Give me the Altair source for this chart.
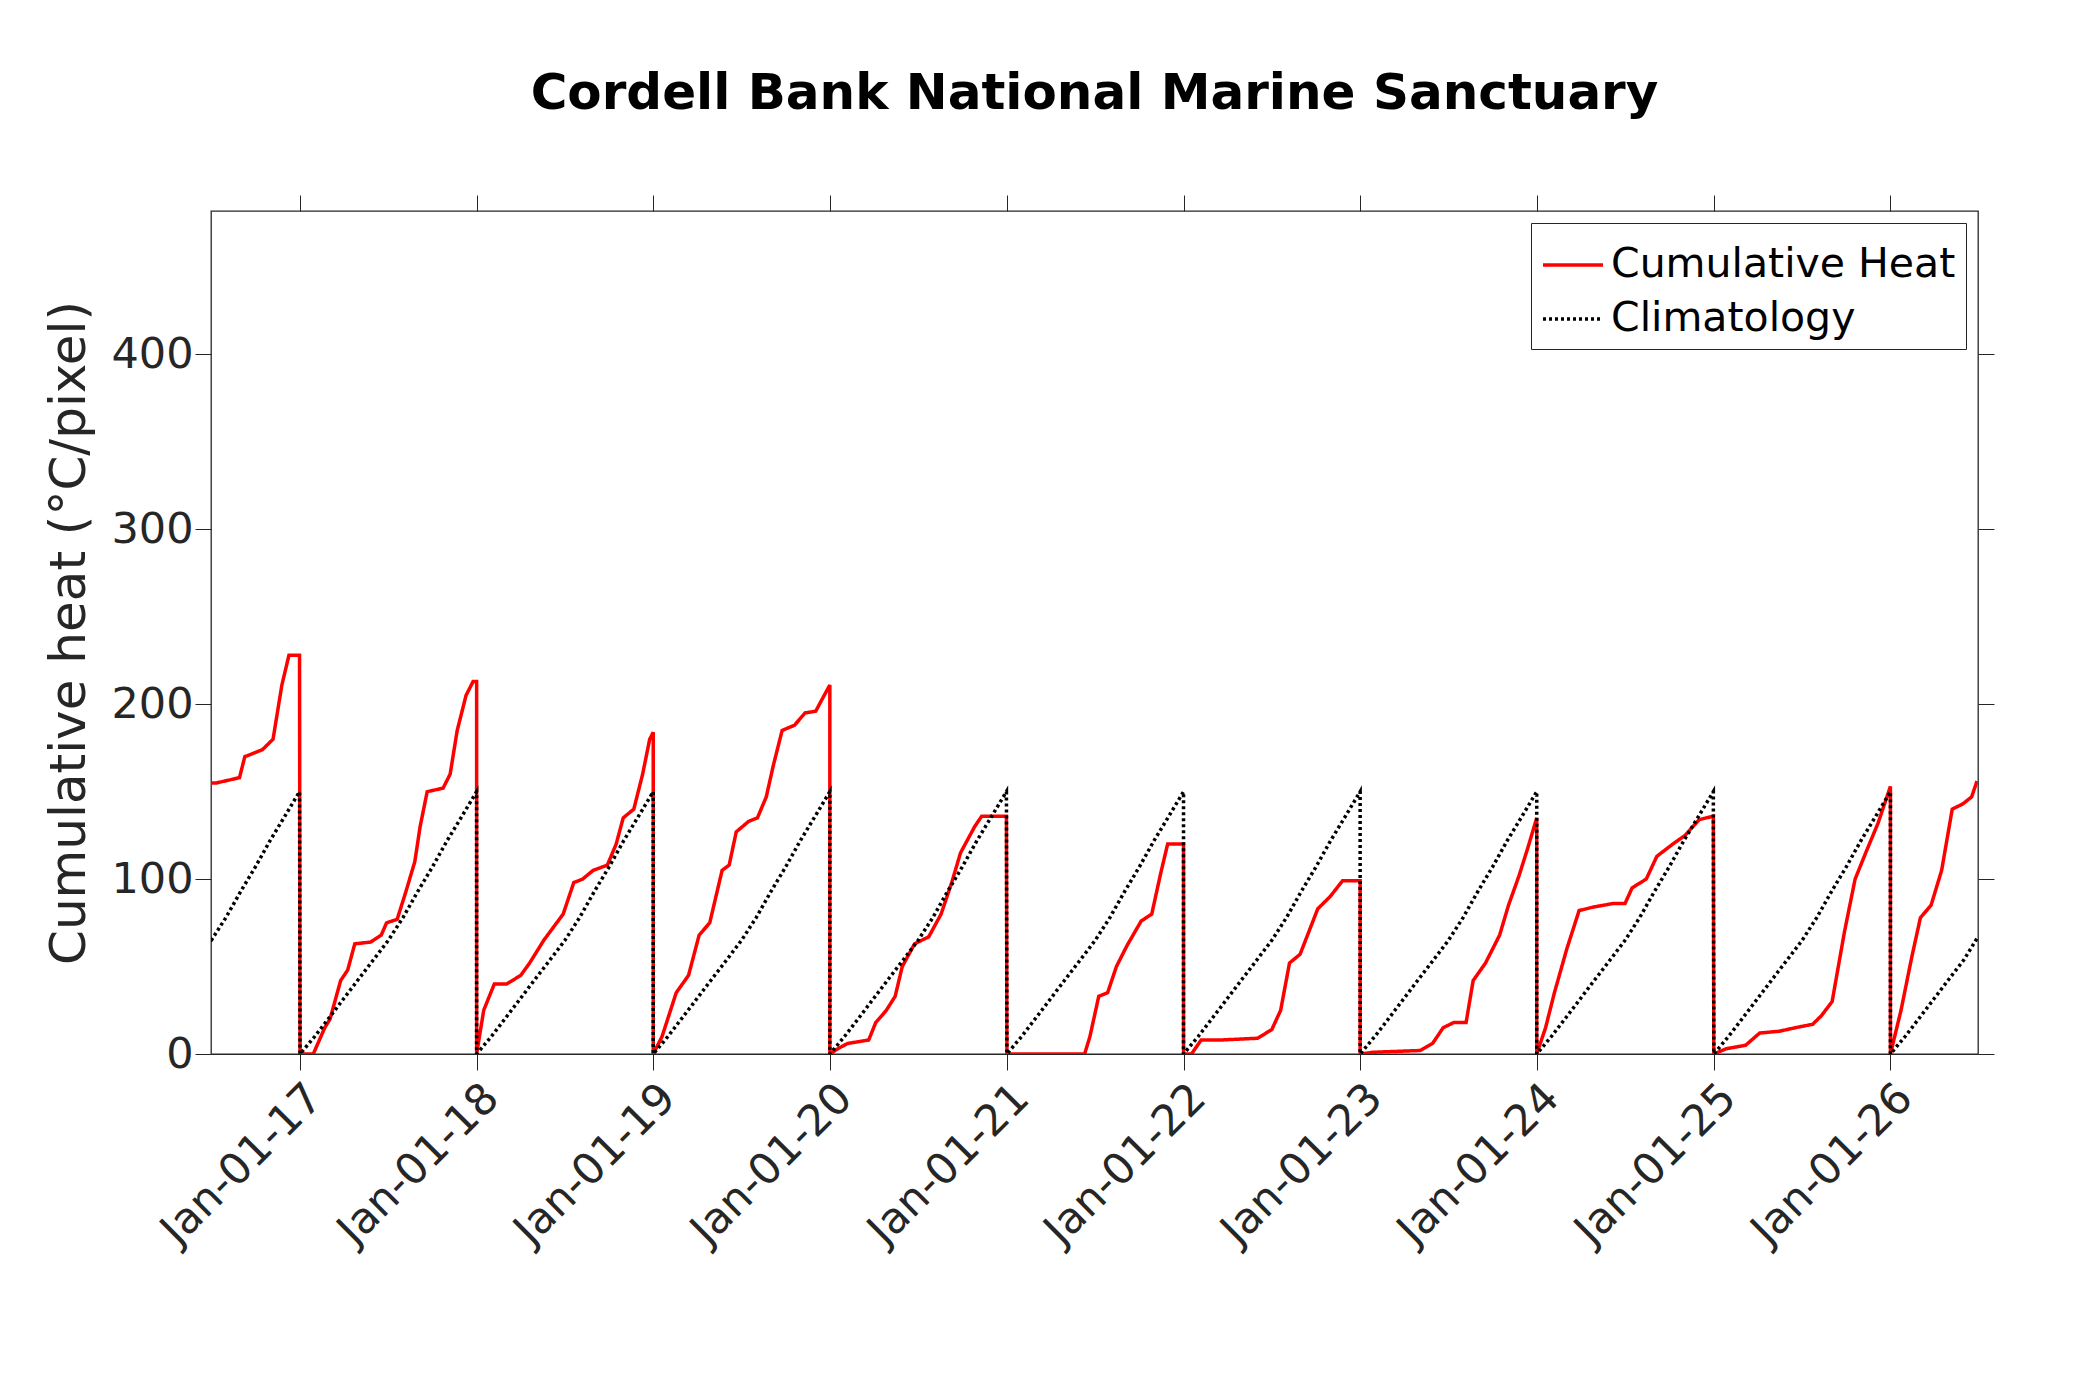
import pandas as pd
import altair as alt

# climatology: one year's curve, monthly fractions of the year (repeats every year)
clim_frac = [0.0, 0.083, 0.167, 0.25, 0.333, 0.417, 0.5, 0.583, 0.667, 0.75, 0.833, 0.917, 1.0]
clim_vals = [0, 10, 21, 32, 43, 54, 65, 78, 93, 107, 122, 136, 150]

# cumulative heat: (fraction of year, value) per year
heat = {
    2016: ([0.5, 0.53, 0.66, 0.69, 0.79, 0.85, 0.9, 0.94, 1.0],
           [155, 155, 158, 170, 174, 180, 211, 228, 228]),
    2017: ([0, 0.075, 0.14, 0.17, 0.23, 0.27, 0.31, 0.4, 0.46, 0.49, 0.55, 0.6, 0.65, 0.68, 0.72, 0.81, 0.85, 0.89, 0.94, 0.98, 1.0],
           [0, 0, 15, 20, 42, 48, 63, 64, 68, 75, 77, 93, 110, 130, 150, 152, 160, 185, 205, 213, 213]),
    2018: ([0, 0.04, 0.1, 0.17, 0.25, 0.3, 0.38, 0.49, 0.55, 0.6, 0.66, 0.74, 0.79, 0.83, 0.89, 0.94, 0.98, 1.0],
           [0, 25, 40, 40, 45, 52, 65, 80, 98, 100, 105, 108, 120, 135, 140, 160, 180, 184]),
    2019: ([0, 0.05, 0.13, 0.2, 0.26, 0.32, 0.39, 0.43, 0.47, 0.54, 0.59, 0.64, 0.68, 0.73, 0.8, 0.86, 0.92, 1.0],
           [0, 10, 35, 45, 68, 75, 105, 108, 127, 133, 135, 147, 165, 185, 188, 195, 196, 211]),
    2020: ([0, 0.045, 0.1, 0.22, 0.26, 0.32, 0.37, 0.41, 0.48, 0.56, 0.63, 0.69, 0.74, 0.82, 0.86, 1.0],
           [0, 3, 6, 8, 18, 25, 33, 50, 63, 67, 80, 98, 115, 130, 136, 136]),
    2021: ([0, 0.44, 0.47, 0.52, 0.57, 0.62, 0.68, 0.76, 0.82, 0.87, 0.91, 1.0],
           [0, 0, 10, 33, 35, 50, 62, 76, 80, 103, 120, 120]),
    2022: ([0, 0.045, 0.1, 0.21, 0.42, 0.5, 0.55, 0.6, 0.66, 0.71, 0.76, 0.83, 0.9, 1.0],
           [0, 0, 8, 8, 9, 14, 25, 52, 57, 70, 83, 90, 99, 99]),
    2023: ([0, 0.075, 0.34, 0.41, 0.47, 0.53, 0.6, 0.64, 0.71, 0.79, 0.84, 0.9, 0.95, 1.0],
           [0, 1, 2, 6, 15, 18, 18, 42, 52, 68, 85, 102, 118, 135]),
    2024: ([0, 0.05, 0.1, 0.17, 0.24, 0.32, 0.43, 0.5, 0.54, 0.62, 0.68, 0.77, 0.84, 0.92, 1.0],
           [0, 15, 35, 60, 82, 84, 86, 86, 95, 100, 113, 120, 125, 134, 136]),
    2025: ([0, 0.07, 0.18, 0.26, 0.37, 0.46, 0.56, 0.61, 0.67, 0.74, 0.8, 0.86, 0.93, 1.0],
           [0, 3, 5, 12, 13, 15, 17, 22, 30, 70, 100, 115, 132, 153]),
    2026: ([0, 0.06, 0.12, 0.17, 0.23, 0.29, 0.35, 0.41, 0.46, 0.49],
           [0, 25, 55, 78, 85, 105, 140, 143, 147, 156]),
}

tick_years = list(range(2017, 2027))


def to_date(year, frac):
    return pd.Timestamp(year=year, month=1, day=1) + pd.Timedelta(days=frac * 365)


rows = []
order = 0
for yr, (fr, vals) in heat.items():
    for f, v in zip(fr, vals):
        rows.append({"date": to_date(yr, f), "value": v, "series": "Cumulative Heat", "o": order})
        order += 1
for yr in range(2016, 2027):
    for f, v in zip(clim_frac, clim_vals):
        d = to_date(yr, f)
        if pd.Timestamp("2016-07-01") <= d <= pd.Timestamp("2026-07-01"):
            rows.append({"date": d, "value": v, "series": "Climatology", "o": order})
            order += 1
# climatology at the edges
rows.append({"date": pd.Timestamp("2016-07-01"), "value": 65, "series": "Climatology", "o": -1})
rows.append({"date": pd.Timestamp("2026-07-01"), "value": 67, "series": "Climatology", "o": order + 1})
df = pd.DataFrame(rows)

FONT = "DejaVu Sans"
GREY = "#262626"
xdom = [pd.Timestamp("2016-07-01").isoformat(), pd.Timestamp("2026-07-01").isoformat()]
xscale = alt.Scale(domain=xdom)
yscale = alt.Scale(domain=[0, 482], nice=False)
tick_vals = [alt.DateTime(year=y, month=1, date=1) for y in tick_years]
series = ["Cumulative Heat", "Climatology"]

lines = alt.Chart(df).mark_line(strokeWidth=3.5, clip=True).encode(
    x=alt.X("date:T", scale=xscale, title=None,
            axis=alt.Axis(values=tick_vals, format="%b-%d-%y", labelAngle=-45, labelAlign="right",
                          labelBaseline="top", labelFontSize=43, labelFont=FONT, labelColor=GREY,
                          labelLimit=500, grid=False, tickSize=16, domainColor=GREY, tickColor=GREY,
                          labelPadding=6)),
    y=alt.Y("value:Q", scale=yscale, title="Cumulative heat (°C/pixel)",
            axis=alt.Axis(values=[0, 100, 200, 300, 400], labelFontSize=43, labelFont=FONT,
                          labelColor=GREY, titleFontSize=50, titleFont=FONT, titleFontWeight="normal",
                          titleColor=GREY, grid=False, tickSize=16, domain=False,
                          tickColor=GREY, titlePadding=16)),
    color=alt.Color("series:N", scale=alt.Scale(domain=series, range=["#ff0000", "#000000"]),
                    legend=alt.Legend(title=None, orient="top-right", offset=12, labelFontSize=41, labelFont=FONT,
                                      symbolType="stroke", symbolSize=3600, symbolStrokeWidth=3.5,
                                      strokeColor=GREY, fillColor="white", padding=10,
                                      labelLimit=500, rowPadding=2, labelOffset=6)),
    strokeDash=alt.StrokeDash("series:N", scale=alt.Scale(domain=series, range=[[1, 0], [3, 3]]),
                              legend=None),
    order="o:Q",
    detail="series:N",
)

frame = alt.Chart(df).mark_point(opacity=0).encode(
    x=alt.X("date:T", scale=xscale,
            axis=alt.Axis(orient="top", values=tick_vals, labels=False, title=None, grid=False,
                          tickSize=16, domain=False, tickColor=GREY)),
    y=alt.Y("value:Q", scale=yscale,
            axis=alt.Axis(orient="right", values=[0, 100, 200, 300, 400], labels=False, title=None,
                          grid=False, tickSize=16, domain=False, tickColor=GREY)),
)

chart = alt.layer(lines, frame).resolve_axis(x="independent", y="independent").properties(
    width=1767, height=843,
    autosize=alt.AutoSizeParams(type="none"),
    padding={"left": 203, "top": 203, "right": 90, "bottom": 320},
    title=alt.Title("Cordell Bank National Marine Sanctuary", font=FONT, fontSize=50,
                    fontWeight="bold", color="black", offset=76),
).configure_view(stroke=GREY, strokeWidth=1.3)

chart.save("out.html", embed_options={"renderer": "svg", "actions": False})
